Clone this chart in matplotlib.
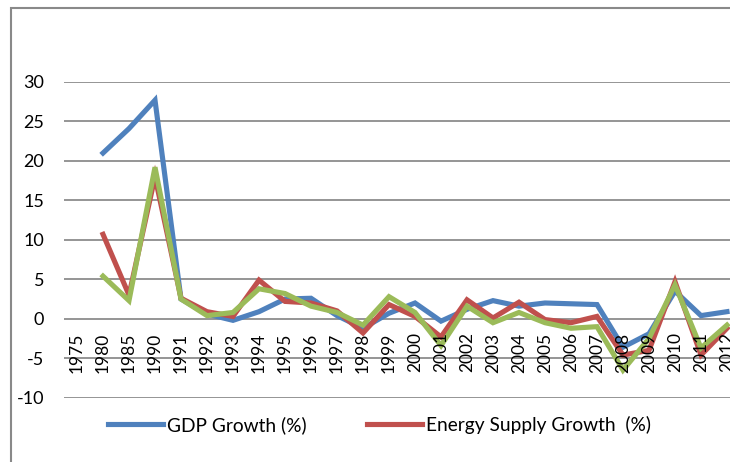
import matplotlib.pyplot as plt
from matplotlib.patches import Rectangle
import numpy as np

years = ['1975', '1980', '1985', '1990', '1991', '1992', '1993', '1994', '1995',
         '1996', '1997', '1998', '1999', '2000', '2001', '2002', '2003', '2004',
         '2005', '2006', '2007', '2008', '2009', '2010', '2011', '2012']

# growth rates in %, nan where there is no value
gdp = [np.nan, 21.0, 24.1, 27.7, 2.5, 0.6, -0.2, 0.9, 2.5,
       2.6, 0.4, -1.2, 0.7, 2.0, -0.3, 1.2, 2.3, 1.6,
       2.0, 1.9, 1.8, -3.6, -1.9, 3.5, 0.4, 0.9]
energy = [np.nan, 10.7, 3.0, 18.0, 2.6, 0.9, 0.3, 4.9, 2.2,
          2.0, 1.0, -1.8, 1.8, 0.3, -2.3, 2.4, 0.1, 2.1,
          -0.1, -0.5, 0.3, -4.6, -4.0, 4.7, -4.6, -1.2]
third = [np.nan, 5.4, 2.3, 19.2, 2.5, 0.4, 0.8, 3.8, 3.2,
         1.6, 0.8, -0.8, 2.8, 0.8, -3.4, 1.6, -0.5, 0.8,
         -0.5, -1.2, -1.0, -6.5, -2.5, 4.3, -3.7, -0.8]

plt.rcParams['font.family'] = ['Lato', 'DejaVu Sans']
plt.rcParams['axes.unicode_minus'] = False

fig = plt.figure(figsize=(7.3, 4.62), dpi=100)
# plot area runs a little past the right edge
ax = fig.add_axes([64/730, 64.3/462, 676/730, 315.7/462])

x = np.arange(len(years))
ax.plot(x, gdp, color='#4F81BD', lw=3.7, solid_joinstyle='miter', label='GDP Growth (%)', zorder=3)
ax.plot(x, energy, color='#C0504D', lw=3.7, solid_joinstyle='miter', label='Energy Supply Growth  (%)', zorder=4)
ax.plot(x, third, color='#9BBB59', lw=3.7, solid_joinstyle='miter', zorder=5)

ax.set_xlim(-0.5, len(years) - 0.5)
ax.set_ylim(-10, 30)
ax.set_yticks(range(-10, 31, 5))
ax.yaxis.grid(True, color='#8C8C8C', lw=1.3)
ax.set_axisbelow(True)
for s in ax.spines.values():
    s.set_visible(False)
ax.tick_params(axis='y', length=0, pad=14.4, labelsize=13)

# category labels hang from the zero line
ax.set_xticks([])
for i, yr in enumerate(years):
    ax.annotate(yr, (i, 0), xytext=(0, -13.7), textcoords='offset pixels',
                rotation=90, ha='center', va='top', fontsize=12.5, zorder=6)

ax.legend(loc='center left', bbox_to_anchor=(108/730, 1 - 425/462),
          bbox_transform=fig.transFigure, ncol=2, frameon=False,
          fontsize=13.8, handlelength=2.87, handletextpad=0.22,
          columnspacing=3.15, borderpad=0, borderaxespad=0)

fig.patches.append(Rectangle((11/730, -0.1), 1.2, 1 - 8/462 + 0.1,
                             transform=fig.transFigure, fill=False,
                             edgecolor='#898989', lw=1.5))

fig.savefig('out.png', dpi=100)
